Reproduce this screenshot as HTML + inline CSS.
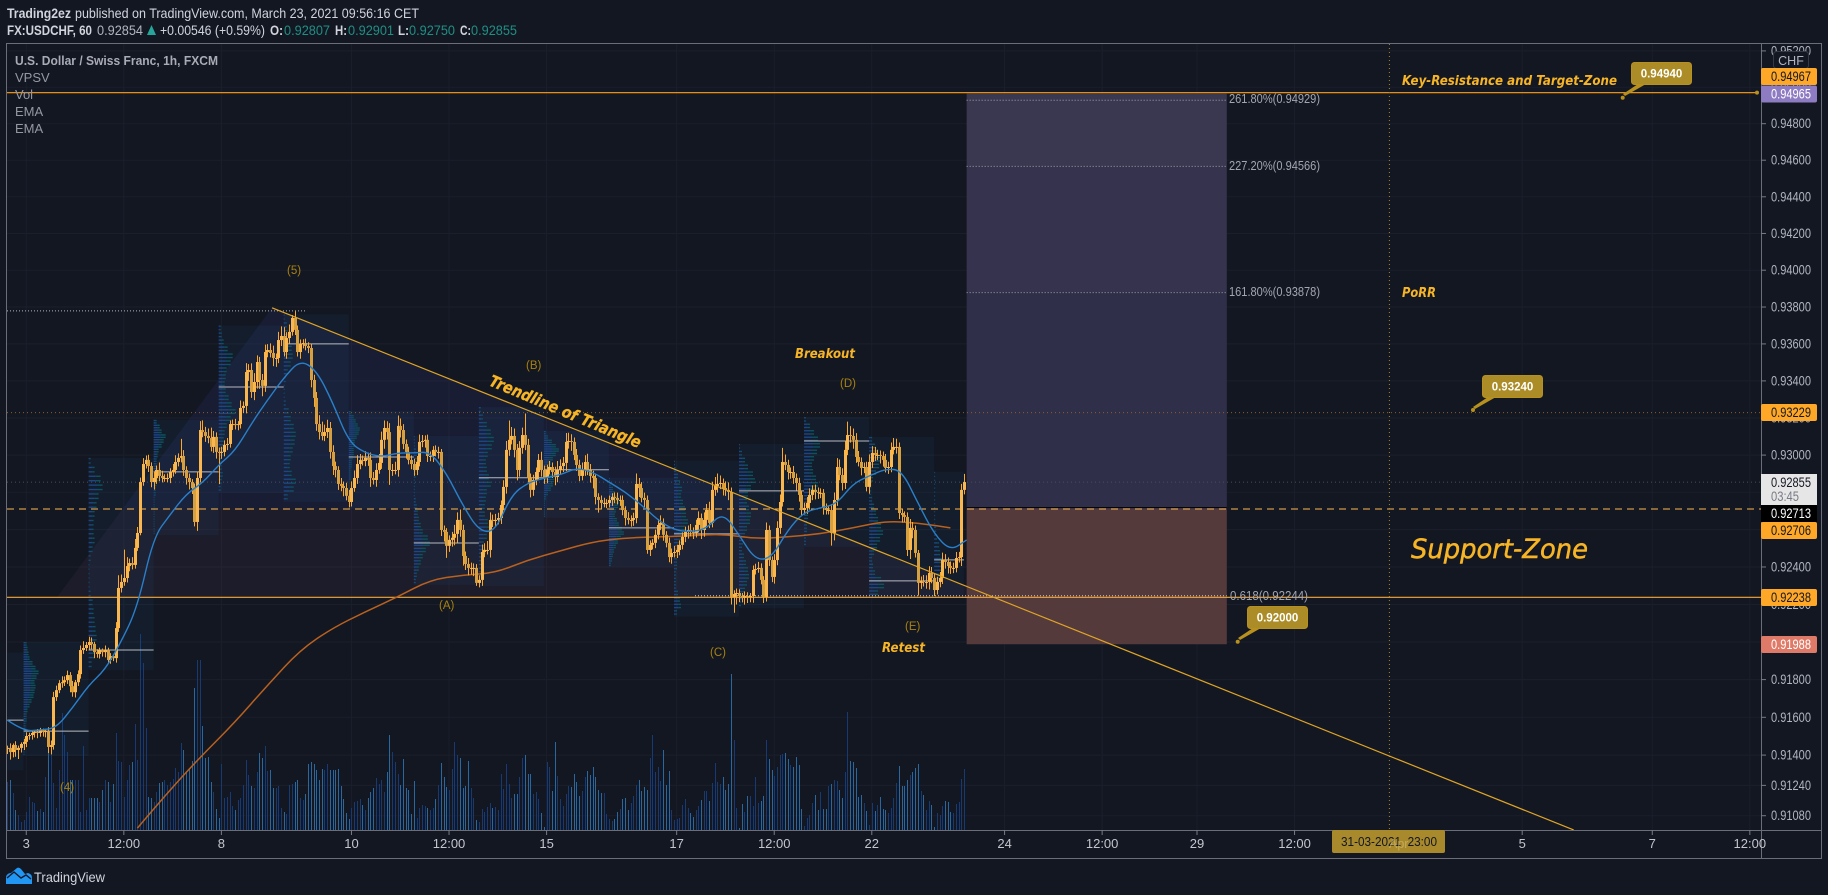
<!DOCTYPE html>
<html lang="en">
<head>
<meta charset="utf-8">
<title>USDCHF 1h chart</title>
<style>
html,body{margin:0;padding:0;background:#131722;width:1828px;height:895px;overflow:hidden}
svg{display:block;font-family:"Liberation Sans",sans-serif}
.deco{font-family:"DejaVu Sans","Liberation Sans",sans-serif;font-style:oblique;font-weight:bold;fill:#f7b526}
.wave{font-size:11.5px;fill:#a8820f}
.tag{font-size:13.5px}
</style>
</head>
<body>
<svg id="chart" xmlns="http://www.w3.org/2000/svg" width="1828" height="895" viewBox="0 0 1828 895">
<defs><clipPath id="plot-clip"><rect x="7" y="44" width="1754" height="786"/></clipPath></defs>
<rect x="0" y="0" width="1828" height="895" fill="#131722"/>

<g id="grid"></g>
<g id="under" clip-path="url(#plot-clip)"></g>

<rect x="6.5" y="43.5" width="1815" height="815" fill="none" stroke="#6b6e79" stroke-width="1"/>
<line x1="1761.5" y1="44" x2="1761.5" y2="858" stroke="#6b6e79"/>
<line x1="7" y1="830.5" x2="1821" y2="830.5" stroke="#6b6e79"/>
<g id="axes"></g>

<!-- header -->
<text x="7" y="18" font-size="14" font-weight="bold" fill="#d1d4dc" textLength="64" lengthAdjust="spacingAndGlyphs">Trading2ez</text>
<text x="75" y="18" font-size="14" fill="#d1d4dc" textLength="344" lengthAdjust="spacingAndGlyphs">published on TradingView.com, March 23, 2021 09:56:16 CET</text>
<text x="7" y="35" font-size="14" font-weight="bold" fill="#d1d4dc" textLength="85" lengthAdjust="spacingAndGlyphs">FX:USDCHF, 60</text>
<text x="97" y="35" font-size="14" fill="#b2b5be" textLength="46" lengthAdjust="spacingAndGlyphs">0.92854</text>
<polygon points="147,35 156,35 151.5,25" fill="#26a69a"/>
<text x="160" y="35" font-size="14" fill="#d1d4dc" textLength="105" lengthAdjust="spacingAndGlyphs">+0.00546 (+0.59%)</text>
<text x="270" y="35" font-size="14" font-weight="bold" fill="#d1d4dc" textLength="13" lengthAdjust="spacingAndGlyphs">O:</text>
<text x="284" y="35" font-size="14" fill="#1f8f85" textLength="46" lengthAdjust="spacingAndGlyphs">0.92807</text>
<text x="335" y="35" font-size="14" font-weight="bold" fill="#d1d4dc" textLength="12" lengthAdjust="spacingAndGlyphs">H:</text>
<text x="348" y="35" font-size="14" fill="#1f8f85" textLength="46" lengthAdjust="spacingAndGlyphs">0.92901</text>
<text x="398" y="35" font-size="14" font-weight="bold" fill="#d1d4dc" textLength="11" lengthAdjust="spacingAndGlyphs">L:</text>
<text x="409" y="35" font-size="14" fill="#1f8f85" textLength="46" lengthAdjust="spacingAndGlyphs">0.92750</text>
<text x="460" y="35" font-size="14" font-weight="bold" fill="#d1d4dc" textLength="11" lengthAdjust="spacingAndGlyphs">C:</text>
<text x="471" y="35" font-size="14" fill="#1f8f85" textLength="46" lengthAdjust="spacingAndGlyphs">0.92855</text>

<!-- legend -->
<text x="15" y="65" font-size="13" font-weight="bold" fill="#a9acb5" textLength="203" lengthAdjust="spacingAndGlyphs">U.S. Dollar / Swiss Franc, 1h, FXCM</text>
<text x="15" y="82" font-size="13" fill="#9598a1">VPSV</text>
<text x="15" y="99" font-size="13" fill="#9598a1">Vol</text>
<text x="15" y="116" font-size="13" fill="#9598a1">EMA</text>
<text x="15" y="133" font-size="13" fill="#9598a1">EMA</text>

<!-- fib labels -->
<text x="1229" y="103" font-size="12.5" fill="#a3a6af" textLength="91" lengthAdjust="spacingAndGlyphs">261.80%(0.94929)</text>
<text x="1229" y="170" font-size="12.5" fill="#a3a6af" textLength="91" lengthAdjust="spacingAndGlyphs">227.20%(0.94566)</text>
<text x="1229" y="296" font-size="12.5" fill="#a3a6af" textLength="91" lengthAdjust="spacingAndGlyphs">161.80%(0.93878)</text>
<text x="1230" y="600" font-size="12.5" fill="#a3a6af" textLength="78" lengthAdjust="spacingAndGlyphs">0.618(0.92244)</text>

<!-- wave labels -->
<text class="wave" x="60" y="791">(4)</text>
<text class="wave" x="287" y="274">(5)</text>
<text class="wave" x="439" y="609">(A)</text>
<text class="wave" x="526" y="369">(B)</text>
<text class="wave" x="710" y="656">(C)</text>
<text class="wave" x="840" y="387">(D)</text>
<text class="wave" x="905" y="630">(E)</text>

<!-- annotations -->
<text class="deco" font-size="16" stroke="#f7b526" stroke-width="0.3" x="488" y="385" transform="rotate(22.8 488 385)" textLength="163" lengthAdjust="spacingAndGlyphs">Trendline of Triangle</text>
<text class="deco" font-size="13.5" x="795" y="358" textLength="60" lengthAdjust="spacingAndGlyphs">Breakout</text>
<text class="deco" font-size="13.5" x="882" y="652" textLength="43" lengthAdjust="spacingAndGlyphs">Retest</text>
<text class="deco" font-size="13.5" x="1402" y="297" textLength="34" lengthAdjust="spacingAndGlyphs">PoRR</text>
<text class="deco" font-size="13.5" x="1402" y="85" textLength="215" lengthAdjust="spacingAndGlyphs">Key-Resistance and Target-Zone</text>
<text x="1411" y="558" font-size="27" font-style="italic" fill="#f7b526" stroke="#f7b526" stroke-width="0.5" style='font-family:"DejaVu Sans",sans-serif' textLength="177" lengthAdjust="spacingAndGlyphs">Support-Zone</text>

<!-- callouts -->
<g>
<polygon points="1625,96 1623,94 1641,82 1646,84" fill="#b8901e"/>
<circle cx="1622.7" cy="97.7" r="2" fill="#b8901e"/>
<rect x="1631.5" y="62.5" width="60" height="22" rx="3" fill="#ac8c27" stroke="#b8901e"/>
<text x="1661.5" y="77.5" font-size="11.5" font-weight="bold" fill="#ffffff" text-anchor="middle">0.94940</text>
</g>
<g>
<polygon points="1475,409 1473,407 1491,395 1496,397" fill="#b8901e"/>
<circle cx="1473" cy="410" r="2" fill="#b8901e"/>
<rect x="1482.5" y="375.5" width="60" height="22" rx="3" fill="#ac8c27" stroke="#b8901e"/>
<text x="1512.5" y="390.5" font-size="11.5" font-weight="bold" fill="#ffffff" text-anchor="middle">0.93240</text>
</g>
<g>
<polygon points="1240,640 1238,638 1256,626 1261,628" fill="#b8901e"/>
<circle cx="1237.7" cy="641.7" r="2" fill="#b8901e"/>
<rect x="1247.5" y="606.5" width="60" height="22" rx="3" fill="#ac8c27" stroke="#b8901e"/>
<text x="1277.5" y="621.5" font-size="11.5" font-weight="bold" fill="#ffffff" text-anchor="middle">0.92000</text>
</g>

<!-- price tags -->
<rect x="1773.5" y="51.5" width="35" height="17" rx="3" fill="#131722" stroke="#363a45"/>
<text x="1791" y="65" font-size="12.5" fill="#b2b5be" text-anchor="middle">CHF</text>

<rect x="1761" y="68" width="56" height="17" rx="2" fill="#ffa726"/>
<text class="tag" x="1771" y="81" fill="#131722" textLength="40" lengthAdjust="spacingAndGlyphs">0.94967</text>
<rect x="1761" y="85.5" width="56" height="17" rx="2" fill="#8e7cc3"/>
<text class="tag" x="1771" y="98.5" fill="#ffffff" textLength="40" lengthAdjust="spacingAndGlyphs">0.94965</text>
<rect x="1761" y="404" width="56" height="17" rx="2" fill="#ffa726"/>
<text class="tag" x="1771" y="417" fill="#131722" textLength="40" lengthAdjust="spacingAndGlyphs">0.93229</text>
<rect x="1761" y="474" width="56" height="31" fill="#e6e6e6"/>
<text class="tag" x="1771" y="487" fill="#131722" textLength="40" lengthAdjust="spacingAndGlyphs">0.92855</text>
<text class="tag" x="1771" y="501" fill="#787b86" textLength="28" lengthAdjust="spacingAndGlyphs">03:45</text>
<rect x="1761" y="505" width="56" height="17" fill="#000000"/>
<text class="tag" x="1771" y="518" fill="#ffffff" textLength="40" lengthAdjust="spacingAndGlyphs">0.92713</text>
<rect x="1761" y="522" width="56" height="17" rx="2" fill="#ffa726"/>
<text class="tag" x="1771" y="535" fill="#131722" textLength="40" lengthAdjust="spacingAndGlyphs">0.92706</text>
<rect x="1761" y="589" width="56" height="17" rx="2" fill="#ffa726"/>
<text class="tag" x="1771" y="602" fill="#131722" textLength="40" lengthAdjust="spacingAndGlyphs">0.92238</text>
<rect x="1761" y="636" width="56" height="17" rx="2" fill="#df7a68"/>
<text class="tag" x="1771" y="649" fill="#ffffff" textLength="40" lengthAdjust="spacingAndGlyphs">0.91988</text>

<!-- date tag -->
<rect x="1332" y="830" width="113" height="23" rx="2" fill="#a88a2c"/>
<text x="1341" y="846" font-size="13" fill="#131722" xml:space="preserve" textLength="96" lengthAdjust="spacingAndGlyphs">31-03-2021  23:00</text>
<text x="1389" y="848" font-size="12.5" fill="#d9c27a" opacity="0.6">Apr</text>

<!-- footer -->
<path d="M6 884 L6 877 Q7 873 11 873 L17 868 Q19 867 21 869 L25 874 L28 873 Q32 874 32 878 L32 884 Z" fill="#2196f3"/>
<path d="M7 878 L14 872 L21 878 L26 875 L31 879" fill="none" stroke="#131722" stroke-width="1.4"/>
<text x="34" y="882" font-size="14" fill="#d1d4dc" textLength="71" lengthAdjust="spacingAndGlyphs">TradingView</text>
</svg>

<script>
// ---------- chart data (prices in 1e-5 units) ----------
var closes = [
91438,91416,91453,91427,91438,91459,91470,91501,91506,91517,
91522,91517,91532,91522,91527,91443,91453,91707,91744,91781,
91786,91797,91824,91765,91733,91786,91829,91957,91968,91984,
92000,91989,91946,91936,91957,91946,91957,91904,91925,91914,
92074,92288,92320,92341,92405,92421,92411,92502,92582,92855,
92952,92974,92941,92855,92877,92920,92888,92877,92877,92877,
92909,92920,92963,92985,92995,92920,92877,92855,92823,92641,
92877,93135,93124,93103,93092,93044,93098,93017,93012,93017,
93055,93060,93167,93167,93162,93167,93254,93265,93448,93459,
93340,93394,93502,93405,93373,93556,93567,93551,93524,93524,
93621,93643,93556,93632,93665,93741,93676,93556,93600,93605,
93589,93578,93405,93308,93167,93124,93103,93124,93146,93017,
92941,92920,92845,92834,92823,92781,92748,92823,92877,92952,
92974,92968,92985,92974,92877,92866,92920,92958,93082,93146,
93124,92920,92920,92920,93157,93135,93060,93017,92974,92952,
92920,92963,93071,93076,93082,92995,92995,93028,93017,93017,
92598,92588,92513,92545,92556,92577,92652,92598,92459,92416,
92395,92395,92395,92315,92331,92480,92491,92491,92652,92646,
92652,92662,92732,92829,93028,93082,93103,93028,92920,93039,
93108,93055,92877,92813,92866,92909,92974,92920,92877,92920,
92936,92909,92882,92920,92941,92958,93071,93076,93071,93001,
92947,92888,92920,92963,92920,92888,92877,92775,92759,92743,
92743,92743,92759,92775,92770,92759,92759,92705,92662,92652,
92652,92662,92845,92823,92770,92759,92491,92518,92529,92572,
92625,92636,92572,92529,92453,92475,92480,92491,92518,92561,
92588,92598,92588,92582,92625,92662,92598,92652,92705,92636,
92813,92834,92845,92850,92823,92813,92802,92240,92256,92261,
92245,92235,92245,92240,92245,92384,92389,92395,92331,92240,
92598,92437,92347,92437,92609,92748,92963,92947,92909,92909,
92877,92850,92786,92705,92716,92743,92786,92813,92802,92797,
92797,92716,92705,92705,92582,92759,92936,92893,92850,93028,
93108,93103,93082,92990,92963,92931,92936,92829,92963,93012,
93001,93001,92995,92974,92931,92936,93028,93044,93044,92689,
92678,92668,92491,92609,92598,92475,92315,92325,92320,92320,
92368,92341,92277,92320,92341,92437,92427,92405,92395,92395,
92448,92453,92813,92855];

var upperWicks = [
15,30,10,25,15,10,20,25,15,20,
10,20,15,10,15,25,30,35,30,20,
40,25,30,20,35,15,25,30,45,20,
35,30,15,20,15,10,30,15,20,10,
40,85,50,190,60,30,40,60,40,30,
40,30,35,25,40,30,50,35,25,30,
25,40,45,30,115,40,25,30,20,30,
40,60,65,35,50,70,40,30,30,35,
30,40,25,30,35,20,50,30,60,40,
45,60,45,35,40,50,40,45,50,30,
55,65,60,40,50,20,45,30,30,25,
30,25,30,35,40,60,70,50,55,40,
45,30,25,40,30,35,40,45,50,60,
40,30,45,35,50,40,45,60,55,50,
45,60,40,55,70,50,40,30,35,30,
35,40,50,40,30,35,30,25,30,35,
20,30,25,30,40,60,50,70,35,30,
40,35,30,25,30,50,45,60,50,35,
40,35,30,45,60,130,60,50,40,45,
50,145,40,30,35,30,40,55,30,35,
40,30,35,60,45,40,60,55,45,30,
40,35,50,45,55,40,35,30,25,30,
35,25,30,25,30,35,30,30,25,40,
30,35,70,40,40,35,30,30,25,35,
40,50,30,25,35,30,40,35,30,30,
35,30,40,30,35,45,30,50,40,55,
55,60,70,50,30,45,50,30,25,30,
25,20,30,25,20,30,35,40,30,25,
50,30,25,40,45,50,95,50,35,30,
40,30,35,25,35,40,45,30,35,30,
30,25,30,30,40,50,60,50,45,60,
90,60,50,45,40,30,30,35,50,45,
40,35,30,30,40,35,50,60,55,30,
30,25,30,60,40,30,20,30,40,45,
45,40,30,35,40,50,40,30,30,35,
40,35,40,55];

var lowerWicks = [
40,50,35,45,60,30,40,35,25,30,
30,35,25,30,35,40,50,30,25,20,
30,25,25,40,30,35,25,30,25,20,
30,35,40,25,30,30,35,20,25,20,
30,25,30,25,30,35,30,25,20,15,
25,30,40,35,50,40,35,30,25,30,
35,30,25,30,30,40,45,50,40,30,
60,30,35,40,35,30,40,45,210,40,
30,35,25,40,30,35,30,35,50,60,
40,55,45,60,70,40,35,30,55,60,
35,40,30,45,40,25,35,30,45,30,
30,35,50,60,45,50,30,35,40,45,
60,50,40,35,55,30,35,30,25,40,
35,30,35,40,60,30,45,25,40,60,
50,100,40,30,45,50,35,45,30,35,
40,35,30,35,45,40,35,40,30,45,
40,65,80,40,45,50,60,45,65,40,
50,45,55,20,30,40,35,30,50,40,
35,30,40,35,45,40,30,50,70,45,
40,35,30,50,40,35,50,45,40,35,
30,40,55,35,30,40,55,45,60,35,
40,35,30,40,35,45,70,50,85,40,
30,35,30,40,35,30,40,35,50,30,
45,40,35,60,30,50,25,40,30,35,
30,35,40,30,35,45,30,40,35,30,
35,45,30,40,30,50,60,45,40,35,
30,40,45,35,50,40,55,50,105,70,
40,30,45,40,35,45,30,25,30,40,
30,40,35,45,35,40,30,35,50,45,
40,50,45,35,30,40,45,35,50,40,
35,45,30,30,85,50,40,35,50,40,
35,45,60,40,30,50,35,30,45,40,
40,35,50,45,30,40,35,30,45,40,
50,35,40,60,55,30,85,40,30,45,
50,35,40,30,35,40,45,50,40,35,
30,30,60,30];

var volumes = [
48,50,37,20,15,8,10,18,33,28,
27,19,21,18,53,78,75,47,22,60,
117,95,78,50,50,50,50,18,84,20,
32,32,32,32,28,40,50,48,28,46,
97,69,68,33,50,65,68,106,70,196,
167,102,33,32,28,38,47,48,50,45,
48,51,62,58,87,80,58,62,69,142,
170,170,104,72,73,48,38,21,12,66,
32,33,38,24,20,30,32,45,70,55,
44,42,58,77,72,84,59,60,42,42,
44,22,18,16,45,46,48,50,32,30,
36,66,68,66,60,50,61,60,66,60,
60,60,61,44,31,17,11,22,28,29,
31,25,20,32,38,42,52,46,50,38,
58,95,78,68,56,45,71,42,40,16,
49,12,22,25,24,22,20,22,31,45,
67,53,43,40,61,88,75,72,42,44,
69,42,32,10,8,21,18,23,27,22,
23,20,
56,41,66,46,32,36,36,53,72,75,
56,56,36,38,31,17,3,68,63,39,
88,54,31,24,36,44,43,56,48,34,
39,53,59,55,63,53,40,37,37,16,
11,9,11,18,21,31,32,20,27,34,
45,50,39,43,40,72,95,58,63,49,
80,45,59,20,10,11,12,25,31,22,
17,13,20,24,30,39,39,29,47,67,
48,46,53,40,46,156,90,22,2,26,
18,34,34,24,53,27,29,34,90,71,
60,54,63,75,76,77,71,65,63,73,
65,21,4,12,15,27,35,20,38,21,
21,44,46,50,49,40,32,58,118,69,
68,62,33,35,27,19,5,27,19,25,
33,21,20,17,22,32,47,64,44,44,
50,55,58,62,66,39,35,20,29,25,
3,17,15,24,29,28,18,17,26,28,
51,61];

// fast EMA, read every 6 bars
var emaFast = [91585,91527,91532,91543,91649,91770,91851,92000,92186,92561,92678,92791,92850,92947,93022,93167,93297,93416,93513,93459,93286,93071,93012,92990,93012,93012,93017,92904,92732,92593,92588,92786,92850,92877,92893,92931,92909,92855,92802,92732,92652,92598,92588,92604,92694,92572,92437,92448,92598,92694,92716,92738,92845,92888,92925,92920,92743,92577,92486,92545];
var emaFastStep = 6;

// slow EMA, read every 12 bars from bar 48
var emaSlow = [91015,91216,91401,91574,91770,91957,92074,92160,92240,92331,92357,92368,92437,92486,92534,92556,92561,92566,92577,92550,92561,92577,92609,92646,92636,92609];
var emaSlowStart = 48;
var emaSlowStep = 12;

// axis labels
var priceTicks = [0.952,0.95,0.948,0.946,0.944,0.942,0.94,0.938,0.936,0.934,0.932,0.93,0.928,0.926,0.924,0.922,0.92,0.918,0.916,0.914,0.9124,0.9108];
var timeTickLabels = ["3","12:00","8","10","12:00","15","17","12:00","22","24","12:00","29","12:00","5","7","12:00"];
var timeTickBars = [7,43,79,127,163,199,247,283,319,368,404,439,475,559,607,643];

// volume profile sessions
var sessionStartBars = [0,6,30,54,78,102,126,150,174,198,222,246,270,294,318,342];
var sessionEndBars = [6,30,54,78,102,126,150,174,198,222,246,270,294,318,342,353];
var sessionHighs = [91944,92000,92985,93190,93700,93760,93237,93103,93259,93130,92878,92970,93060,93205,93098,92910];
var sessionLows = [91320,91395,91850,92570,92797,92748,92710,92304,92298,92663,92400,92135,92180,92507,92240,92240];
var sessionPocs = [91585,91527,91957,92910,93367,93600,92990,92528,92878,92921,92609,92577,92808,93076,92326,92438];
var profileS1 = [0,0,0,0,0,0];
var profileS2 = [3,4,5,6,9,12,15,13,11,12,11,10,8,6,4,3,3,2,2,1,1,1,1,1];
var profileS3 = [2,6,12,14,10,8,6,5,5,6,4,2,1,1,1,2,4,5,6,7,8,7,6,3];
var profileS4 = [3,6,8,12,10,8,5,4,3,3,4,4,5,3,2,2,1,1,1,1,1,1,1,1];
var profileS5 = [2,3,5,9,14,12,8,7,6,7,10,13,17,12,8,6,5,5,4,3,3,4,3,2];
var profileS6 = [1,3,4,5,8,9,7,4,2,1,1,2,5,7,10,12,11,9,7,6,8,12,10,4];
var profileS7 = [2,5,7,9,11,10,8,6,6,5,5,4,3,3,2,2,2,1,1,1,1,1,1,1];
var profileS8 = [1,1,2,3,4,3,2,1,1,1,2,3,4,5,7,9,14,16,12,9,7,5,3,2];
var profileS9 = [2,4,8,12,15,13,9,7,8,10,12,8,7,6,6,9,11,8,5,7,5,4,2,1];
var profileS10 = [2,4,8,12,15,12,9,7,5,6,8,10,9,7,4,2,1,1,1,1];
var profileS11 = [1,2,4,6,8,10,9,7,6,8,10,13,15,12,9,7,5,4,3,2];
var profileS12 = [1,2,4,6,8,7,9,11,12,14,11,9,7,5,4,3,3,2,2,2,4,6,7,3];
var profileS13 = [1,3,6,9,14,16,12,9,8,10,12,11,8,6,4,3,5,7,9,10,8,6,4,2];
var profileS14 = [2,6,10,14,16,13,10,8,9,12,14,11,8,6,5,4,3,3,2,2];
var profileS15 = [3,6,9,12,10,7,4,2,2,3,5,7,9,12,14,11,8,5,3,4,6,12,15,9];
var profileS16 = [1,1,1,1,1,1,1,2,3,5,6,8,10,7,4,2];
var profiles = [profileS1,profileS2,profileS3,profileS4,profileS5,profileS6,profileS7,profileS8,profileS9,profileS10,profileS11,profileS12,profileS13,profileS14,profileS15,profileS16];

// price levels
var levelTop = 0.94965, levelEntry = 0.92713, levelStop = 0.91988;
var fib2618 = 0.94929, fib2272 = 0.94566, fib1618 = 0.93878, fib0618 = 0.92244;
var levelResist = 0.93229, levelLast = 0.92855, levelSupport = 0.92238, levelPeak = 0.93779;
var trendStartBar = 97.7, trendStartPrice = 0.93796, trendEndBar = 578, trendEndPrice = 0.91005;
var wedgeBar = 18.3, wedgePrice = 0.92238;

// ---------- axis functions ----------
function x(bar){ return 7.3 + 2.71 * bar; }
function y(price){ return 123.7 + 17287 * Math.log(0.948 / price); }
function yp(units){ return y(units / 100000); }
function yVol(v){ return 830 - v; }
var wickScale = 0.8;

var NS = 'http://www.w3.org/2000/svg';
function add(tag, attrs, parent){
  var el = document.createElementNS(NS, tag);
  for (var k in attrs) el.setAttribute(k, attrs[k]);
  parent.appendChild(el);
  return el;
}
function smoothPath(pts){
  var d = 'M' + pts[0][0].toFixed(1) + ' ' + pts[0][1].toFixed(1);
  for (var i = 1; i < pts.length - 1; i++){
    var mx = (pts[i][0] + pts[i+1][0]) / 2;
    var my = (pts[i][1] + pts[i+1][1]) / 2;
    d += ' Q' + pts[i][0].toFixed(1) + ' ' + pts[i][1].toFixed(1) + ' ' + mx.toFixed(1) + ' ' + my.toFixed(1);
  }
  var last = pts[pts.length - 1];
  return d + ' L' + last[0].toFixed(1) + ' ' + last[1].toFixed(1);
}

var gridG = document.getElementById('grid');
var under = document.getElementById('under');
var axes = document.getElementById('axes');

// grid + axes
priceTicks.forEach(function(p){
  var gl = add('line', {x1:7, x2:1761, y1:y(p), y2:y(p), stroke:'#1b1f2b', 'stroke-width':1}, gridG);
  
  
  var tm = add('line', {x1:1761, x2:1766, y1:y(p), y2:y(p), stroke:'#787b86', 'stroke-width':1}, axes);
  
  
  var tl = add('text', {x:1771, y:y(p)+4.5, 'font-size':13.5, fill:'#b2b5be', textLength:40, lengthAdjust:'spacingAndGlyphs'}, axes);
  
  
  tl.textContent = p.toFixed(5);
});
timeTickBars.forEach(function(b, i){
  var gl = add('line', {x1:x(b), x2:x(b), y1:44, y2:830, stroke:'#1b1f2b', 'stroke-width':1}, gridG);
  
  
  var tm = add('line', {x1:x(b), x2:x(b), y1:830, y2:835, stroke:'#787b86', 'stroke-width':1}, axes);
  
  
  var tl = add('text', {x:x(b), y:848, 'font-size':13, fill:'#c4c6cd', 'text-anchor':'middle'}, axes);
  
  
  tl.textContent = timeTickLabels[i];
});

// triangle zone
var yEntry = y(levelEntry), ySup = y(levelSupport);
var slope = (y(trendEndPrice) - y(trendStartPrice)) / (x(trendEndBar) - x(trendStartBar));
var xT = x(trendStartBar);
var yT = y(trendStartPrice);
var xW = x(wedgeBar);
var yW = y(wedgePrice);
var xTrendEntry = xT + (yEntry - yT) / slope;
var xTrendSup = xT + (ySup - yT) / slope;
var xWedgeEntry = xW + (xT - xW) * (yW - yEntry) / (yW - yT);
var triUp = add('polygon', {points:[xWedgeEntry+','+yEntry, xT+','+yT, xTrendEntry+','+yEntry].join(' '), fill:'rgba(70,70,180,0.12)'}, under);


var triLow = add('polygon', {points:[xW+','+yW, xWedgeEntry+','+yEntry, xTrendEntry+','+yEntry, xTrendSup+','+ySup].join(' '), fill:'rgba(115,70,105,0.11)'}, under);



// volume bars
volumes.forEach(function(v, i){
  var up = i === 0 || closes[i] >= closes[i-1];
  var b = add('rect', {x:Math.round(x(i)), y:yVol(v), width:1, height:Math.max(0, 830 - yVol(v)), fill: up ? '#173a75' : '#2a679f'}, under);
  
  
});

// session boxes and volume profile
sessionStartBars.forEach(function(start, s){
  var top = yp(sessionHighs[s]);
  var bot = yp(sessionLows[s]);
  var box = add('rect', {x:x(start), y:top, width:x(sessionEndBars[s])-x(start), height:bot-top, fill:'rgba(33,100,150,0.09)'}, under);
  
  
});

// position tool
var posLeft = x(354), posRight = x(450);
var pos1 = add('rect', {x:posLeft, y:y(levelTop), width:posRight-posLeft, height:y(fib2272)-y(levelTop), fill:'#3a3750'}, under);


var pos2 = add('rect', {x:posLeft, y:y(fib2272), width:posRight-posLeft, height:y(fib1618)-y(fib2272), fill:'#35334d'}, under);


var pos3 = add('rect', {x:posLeft, y:y(fib1618), width:posRight-posLeft, height:y(levelEntry)-y(fib1618), fill:'#302f49'}, under);


var pos4 = add('rect', {x:posLeft, y:y(levelEntry), width:posRight-posLeft, height:y(levelStop)-y(levelEntry), fill:'#553a3c'}, under);


var posMid = add('line', {x1:posLeft, x2:posRight, y1:y(levelEntry)-1, y2:y(levelEntry)-1, stroke:'#05060a', 'stroke-width':1}, under);



// profile rows
profiles.forEach(function(rows, s){
  var top = yp(sessionHighs[s]);
  var bot = yp(sessionLows[s]);
  var pitch = (bot - top) / (rows.length * 2);
  rows.forEach(function(w, r){
    if (!w) return;
    for (var q = 0; q < 2; q++){
      var ry = top + (r * 2 + q) * pitch;
      var blue = add('rect', {x:x(sessionStartBars[s]), y:ry, width:w*0.6, height:Math.min(1.4, pitch*0.6), fill:'#1c4685'}, under);
      
      
      var teal = add('rect', {x:x(sessionStartBars[s])+w*0.6, y:ry, width:w*0.4, height:Math.min(1.4, pitch*0.6), fill:'#0d5260'}, under);
      
      
    }
  });
});

// horizontal levels
var lnPeak = add('line', {x1:7, x2:305, y1:y(levelPeak), y2:y(levelPeak), stroke:'#b2b5be', 'stroke-width':1, 'stroke-dasharray':'1 2'}, under);


var lnRes = add('line', {x1:7, x2:1761, y1:y(levelResist), y2:y(levelResist), stroke:'#8a5f28', 'stroke-width':1, 'stroke-dasharray':'1 3'}, under);


var lnLast = add('line', {x1:7, x2:1761, y1:y(levelLast), y2:y(levelLast), stroke:'#4a4e59', 'stroke-width':1, 'stroke-dasharray':'1 3'}, under);


var lnEntry = add('line', {x1:7, x2:1761, y1:y(levelEntry)+0.5, y2:y(levelEntry)+0.5, stroke:'#ffb74d', 'stroke-width':1, 'stroke-dasharray':'7 5'}, under);


var lnTop = add('line', {x1:7, x2:1756, y1:y(levelTop)-1, y2:y(levelTop)-1, stroke:'#ff9f1a', 'stroke-width':1.1}, under);


var dotTop = add('circle', {cx:1757, cy:y(levelTop)-1, r:2, fill:'#b8901e'}, under);


var lnSup = add('line', {x1:7, x2:1761, y1:y(levelSupport), y2:y(levelSupport), stroke:'#f5a83c', 'stroke-width':1.1}, under);


var fibs = [fib2618, fib2272, fib1618];
fibs.forEach(function(f){
  var ln = add('line', {x1:posLeft, x2:posRight, y1:y(f), y2:y(f), stroke:'#a3a6af', 'stroke-width':1, 'stroke-dasharray':'1 2'}, under);
  
  
});
var lnFib = add('line', {x1:695, x2:posRight, y1:y(fib0618)-0.5, y2:y(fib0618)-0.5, stroke:'#c9cbd2', 'stroke-width':1, 'stroke-dasharray':'1 2'}, under);


var lnV = add('line', {x1:1389.4, x2:1389.4, y1:44, y2:830, stroke:'#a8882f', 'stroke-width':1, 'stroke-dasharray':'1 3'}, under);



// POC lines
sessionPocs.forEach(function(p, s){
  var ln = add('line', {x1:x(sessionStartBars[s]), x2:x(sessionEndBars[s]), y1:yp(p), y2:yp(p), stroke:'#b8bac2', 'stroke-width':1}, under);
  
  
});

// EMAs
var slowPts = emaSlow.map(function(p, j){ return [x(emaSlowStart + j * emaSlowStep), yp(p)]; });
var slowLine = add('path', {d:smoothPath(slowPts), fill:'none', stroke:'#b9611f', 'stroke-width':1.5}, under);



// candles
closes.forEach(function(c, i){
  var o = i ? closes[i-1] : c;
  var hiBody = Math.max(o, c);
  var loBody = Math.min(o, c);
  var cx = Math.round(x(i));
  var g = add('g', {}, under);
  
  
  var wick = add('line', {x1:cx+0.5, x2:cx+0.5, y1:yp(hiBody + upperWicks[i] * wickScale), y2:yp(loBody - lowerWicks[i] * wickScale), stroke:'#ffa726', 'stroke-width':1}, g);
  
  
  var body = add('rect', {x:cx-1, y:yp(hiBody), width:3, height:Math.max(1, yp(loBody)-yp(hiBody)), fill: c >= o ? '#fab64f' : '#d6a040'}, g);
  
  
});

var fastPts = emaFast.map(function(p, j){ return [x(j * emaFastStep), yp(p)]; });
var fastLine = add('path', {d:smoothPath(fastPts), fill:'none', stroke:'#2a7fc9', 'stroke-width':1.4}, under);



// trendline
var trend = add('line', {x1:x(trendStartBar), y1:y(trendStartPrice), x2:x(trendEndBar), y2:y(trendEndPrice), stroke:'#e0a526', 'stroke-width':1.2}, under);


</script>
</body>
</html>
